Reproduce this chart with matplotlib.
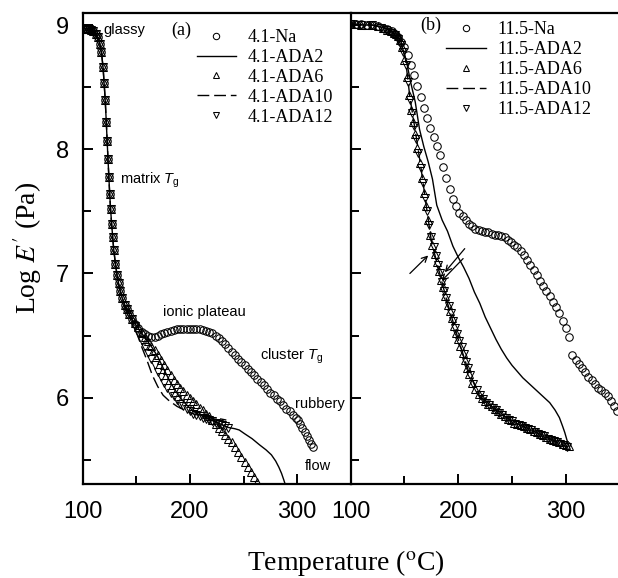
import matplotlib
matplotlib.use("Agg")
import matplotlib.pyplot as plt
from matplotlib.ticker import MultipleLocator

plt.rcParams['font.family'] = ['Liberation Sans', 'DejaVu Sans']
plt.rcParams['mathtext.fontset'] = 'custom'
plt.rcParams['mathtext.rm'] = 'Liberation Sans'
plt.rcParams['mathtext.it'] = 'Liberation Sans:italic'

# ---- panel (a): 4.1 series ----
# steep matrix Tg drop, where all 4.1 curves lie on top of each other
drop41_T = [100, 102, 104, 106, 108, 110, 112, 114, 116, 117.5, 119, 120, 121, 122, 122.8,
            123.6, 124.4, 125.2, 126, 127, 128, 129, 130.5, 132, 133.5, 135, 137, 139, 141, 143.5, 146]
drop41_Y = [8.97, 8.97, 8.97, 8.97, 8.96, 8.95, 8.93, 8.90, 8.85, 8.78, 8.66, 8.53, 8.40, 8.22, 8.07,
            7.92, 7.78, 7.64, 7.52, 7.40, 7.29, 7.19, 7.08, 6.99, 6.92, 6.86, 6.80, 6.75, 6.71, 6.67, 6.63]

na41_T = [149, 152, 155, 158, 161, 164, 167, 170, 173, 176, 179, 182, 185, 188, 191, 194, 197, 200,
          203, 206, 209, 212, 215, 218, 221, 224, 227, 230, 233, 236, 239, 242, 245, 248, 251, 254,
          257, 260, 263, 266, 269, 272, 275, 278, 281, 284, 287, 290, 293, 296, 299, 301, 303, 305,
          307, 309, 311, 313, 315]
na41_Y = [6.59, 6.56, 6.53, 6.51, 6.50, 6.49, 6.49, 6.50, 6.51, 6.52, 6.53, 6.54, 6.545, 6.55, 6.55,
          6.555, 6.555, 6.555, 6.555, 6.55, 6.55, 6.545, 6.54, 6.53, 6.52, 6.50, 6.48, 6.46, 6.43,
          6.40, 6.37, 6.34, 6.31, 6.29, 6.26, 6.23, 6.21, 6.18, 6.15, 6.13, 6.10, 6.07, 6.04, 6.02,
          5.99, 5.97, 5.94, 5.91, 5.89, 5.86, 5.84, 5.82, 5.79, 5.76, 5.72, 5.69, 5.66, 5.63, 5.60]

ada2_41_T = [150, 155, 160, 165, 170, 175, 182, 190, 197, 205, 212, 220, 228, 236, 242, 246, 251,
             258, 265, 271, 276, 280, 283, 285.5, 287.5, 289]
ada2_41_Y = [6.58, 6.52, 6.46, 6.40, 6.33, 6.24, 6.12, 6.01, 5.94, 5.88, 5.85, 5.82, 5.79, 5.76,
             5.75, 5.74, 5.71, 5.67, 5.62, 5.58, 5.54, 5.49, 5.44, 5.39, 5.34, 5.30]

ada6_41_T = [149, 152, 155, 158, 161, 164, 167, 170, 173, 176, 179, 182, 185, 188, 191, 194, 197,
             200, 203, 206, 209, 212, 215, 218, 221, 224, 227, 230, 233, 236, 239, 242, 245, 248,
             251, 254, 257, 260, 263, 266]
ada6_41_Y = [6.60, 6.57, 6.53, 6.49, 6.46, 6.42, 6.38, 6.34, 6.30, 6.26, 6.22, 6.18, 6.14, 6.11,
             6.08, 6.05, 6.02, 6.00, 5.97, 5.95, 5.92, 5.90, 5.87, 5.85, 5.82, 5.79, 5.76, 5.73,
             5.70, 5.67, 5.64, 5.60, 5.56, 5.52, 5.48, 5.44, 5.40, 5.36, 5.32, 5.28]

ada10_41_T = [150, 155, 160, 165, 170, 175, 180, 188, 195, 203, 212, 220, 228, 234]
ada10_41_Y = [6.53, 6.41, 6.30, 6.18, 6.09, 6.02, 5.98, 5.93, 5.90, 5.87, 5.85, 5.84, 5.83, 5.82]

ada12_41_T = [149, 152, 155, 158, 161, 164, 167, 170, 173, 176, 179, 182, 185, 188, 191, 194, 197,
              200, 203, 206, 209, 212, 215, 218, 221, 224, 227, 230, 233, 236]
ada12_41_Y = [6.58, 6.52, 6.46, 6.41, 6.36, 6.31, 6.26, 6.21, 6.17, 6.12, 6.08, 6.04, 6.01, 5.98,
              5.95, 5.93, 5.91, 5.89, 5.87, 5.86, 5.85, 5.84, 5.83, 5.82, 5.81, 5.80, 5.79, 5.78,
              5.77, 5.76]

# ---- panel (b): 11.5 series ----
na115_T = [100, 105, 110, 115, 120, 125, 130, 134, 138, 141, 144, 147, 150, 153, 156, 159, 162,
           165, 168, 171, 174, 177, 180, 183, 186, 189, 192, 195, 198, 201, 204, 207, 210, 213,
           216, 219, 222, 225, 228, 231, 234, 237, 240, 243, 246, 249, 252, 255, 258, 261, 264,
           267, 270, 273, 276, 279, 282, 285, 288, 291, 294, 297, 300, 303, 306, 309, 312, 315,
           318, 321, 324, 327, 330, 333, 336, 339, 342, 345, 348]
na115_Y = [9.01, 9.01, 9.01, 9.00, 9.00, 8.99, 8.98, 8.97, 8.95, 8.93, 8.90, 8.86, 8.82, 8.76,
           8.68, 8.60, 8.51, 8.42, 8.33, 8.25, 8.17, 8.10, 8.03, 7.95, 7.86, 7.77, 7.68, 7.60,
           7.54, 7.49, 7.46, 7.43, 7.40, 7.38, 7.36, 7.35, 7.34, 7.33, 7.33, 7.32, 7.31, 7.31,
           7.30, 7.29, 7.27, 7.25, 7.23, 7.21, 7.18, 7.15, 7.11, 7.07, 7.03, 6.99, 6.94, 6.90,
           6.86, 6.82, 6.77, 6.73, 6.68, 6.62, 6.56, 6.49, 6.34, 6.30, 6.27, 6.24, 6.21, 6.17,
           6.14, 6.11, 6.08, 6.06, 6.04, 6.01, 5.97, 5.93, 5.89]

ada2_115_T = [100, 110, 120, 130, 136, 140, 144, 148, 152, 156, 160, 164, 168, 172, 176, 180,
              185, 190, 195, 200, 205, 210, 215, 220, 225, 230, 235, 240, 245, 250, 255, 260,
              265, 270, 275, 280, 285, 290, 294, 297, 299, 301, 303]
ada2_115_Y = [9.01, 9.00, 9.00, 8.98, 8.96, 8.93, 8.88, 8.82, 8.70, 8.53, 8.38, 8.16, 8.02, 7.90,
              7.76, 7.55, 7.43, 7.34, 7.22, 7.13, 7.05, 6.96, 6.85, 6.76, 6.65, 6.56, 6.47, 6.39,
              6.32, 6.26, 6.21, 6.16, 6.12, 6.08, 6.04, 6.00, 5.96, 5.90, 5.84, 5.77, 5.72, 5.66,
              5.61]

ada6_115_T = [100, 105, 110, 115, 120, 125, 130, 134, 137, 140, 142, 144, 146, 148, 150, 152, 154,
              156, 158, 160, 162, 164, 166, 168, 170, 172, 174, 176, 178, 180, 182, 184, 186, 188,
              190, 192, 194, 196, 198, 200, 202, 204, 206, 208, 210, 213, 216, 219, 222, 225, 228,
              231, 234, 237, 240, 243, 246, 249, 252, 255, 258, 261, 264, 267, 270, 273, 276, 279,
              282, 285, 288, 291, 294, 297, 300, 303]
ada6_115_Y = [9.01, 9.01, 9.00, 9.00, 9.00, 8.99, 8.98, 8.96, 8.95, 8.94, 8.93, 8.91, 8.88, 8.82,
              8.72, 8.58, 8.44, 8.32, 8.22, 8.12, 8.01, 7.89, 7.77, 7.65, 7.54, 7.43, 7.31, 7.23,
              7.16, 7.09, 7.02, 6.95, 6.89, 6.82, 6.75, 6.70, 6.64, 6.58, 6.52, 6.47, 6.42, 6.36,
              6.30, 6.24, 6.19, 6.12, 6.07, 6.03, 6.00, 5.97, 5.95, 5.93, 5.91, 5.89, 5.87, 5.85,
              5.83, 5.82, 5.80, 5.79, 5.78, 5.77, 5.76, 5.75, 5.73, 5.72, 5.71, 5.70, 5.68, 5.67,
              5.66, 5.65, 5.64, 5.63, 5.62, 5.61]

ada10_115_T = [100, 120, 135, 142, 147, 151, 155, 160, 165, 170, 175, 180, 190, 200, 210, 220,
               235, 250, 270, 290, 302]
ada10_115_Y = [9.01, 9.00, 8.97, 8.93, 8.86, 8.72, 8.42, 8.15, 7.87, 7.56, 7.26, 7.09, 6.76, 6.47,
               6.20, 6.01, 5.90, 5.81, 5.73, 5.65, 5.60]

ada12_115_T = [100, 110, 120, 128, 133, 137, 141, 144, 147, 149, 151, 153, 155, 157, 159, 161,
               163, 165, 167, 169, 171, 173, 175, 177, 179, 181, 183, 185, 187, 189, 191, 193,
               195, 197, 199, 201, 203, 205, 207, 209, 211, 214, 217, 220, 223, 226, 229, 232,
               235, 238, 241, 244, 247, 250, 253, 256, 259, 262, 265, 268, 271, 274, 277, 280,
               283, 286, 289, 292, 295, 298, 301]
ada12_115_Y = [9.01, 9.00, 9.00, 8.98, 8.96, 8.94, 8.92, 8.89, 8.84, 8.78, 8.68, 8.54, 8.40, 8.29,
               8.19, 8.08, 7.97, 7.85, 7.73, 7.61, 7.50, 7.39, 7.29, 7.21, 7.14, 7.07, 7.00, 6.93,
               6.86, 6.80, 6.74, 6.68, 6.62, 6.56, 6.51, 6.46, 6.41, 6.35, 6.29, 6.24, 6.18, 6.11,
               6.06, 6.02, 5.99, 5.96, 5.94, 5.92, 5.90, 5.88, 5.86, 5.84, 5.82, 5.81, 5.79, 5.78,
               5.77, 5.76, 5.75, 5.74, 5.72, 5.71, 5.70, 5.69, 5.67, 5.66, 5.65, 5.64, 5.63, 5.62,
               5.60]

# arrows in panel (b): (tail, head) in data units
arrows_b = [((155, 7.00), (172, 7.145)),
            ((206, 7.20), (187.5, 7.01)),
            ((204.5, 7.12), (184.5, 6.94))]

# annotations in panel (a)
notes_a = [(119, 8.96, 'glassy'),
           (135, 7.75, r'matrix $T_{\rm g}$'),
           (175, 6.69, 'ionic plateau'),
           (265, 6.33, r'cluster $T_{\rm g}$'),
           (298, 5.95, 'rubbery'),
           (307.5, 5.45, 'flow')]

fig = plt.figure(figsize=(6.18, 5.78), dpi=100)
ax1 = fig.add_axes([0.1338, 0.1626, 0.4337, 0.8149])
ax2 = fig.add_axes([0.5675, 0.1626, 0.4325, 0.8149], sharey=ax1)

mk = dict(linestyle='none', ms=5.4, mew=0.75, mfc='none', mec='black')


def draw(ax, na, a2, a6, a10, a12, prefix):
    ax.plot(*na, marker='o', label=prefix + '-Na', **mk)
    ax.plot(*a2, color='black', lw=1.0, label=prefix + '-ADA2')
    ax.plot(*a6, marker='^', label=prefix + '-ADA6', **mk)
    ax.plot(*a10, color='black', lw=1.0, dashes=(8.5, 3.5), label=prefix + '-ADA10')
    ax.plot(*a12, marker='v', label=prefix + '-ADA12', **mk)


draw(ax1,
     (drop41_T + na41_T, drop41_Y + na41_Y),
     (drop41_T + ada2_41_T, drop41_Y + ada2_41_Y),
     (drop41_T + ada6_41_T, drop41_Y + ada6_41_Y),
     (drop41_T + ada10_41_T, drop41_Y + ada10_41_Y),
     (drop41_T + ada12_41_T, drop41_Y + ada12_41_Y),
     '4.1')
draw(ax2,
     (na115_T, na115_Y),
     (ada2_115_T, ada2_115_Y),
     (ada6_115_T, ada6_115_Y),
     (ada10_115_T, ada10_115_Y),
     (ada12_115_T, ada12_115_Y),
     '11.5')

for tail, head in arrows_b:
    ax2.annotate('', xy=head, xytext=tail,
                 arrowprops=dict(arrowstyle='->', lw=0.9, color='black', shrinkA=0, shrinkB=0))

for x, y, s in notes_a:
    ax1.text(x, y, s, fontsize=10.5, va='center', ha='left')

serif = ['Liberation Serif', 'DejaVu Serif']
ax1.text(183, 8.96, '(a)', family=serif, fontsize=13, va='center')
ax2.text(164.5, 9.0, '(b)', family=serif, fontsize=13, va='center')

leg_kw = dict(loc='upper left', frameon=False, borderpad=0, borderaxespad=0,
              handlelength=2.2, handletextpad=0.65, labelspacing=0.16, numpoints=1,
              markerscale=0.85, prop={'family': serif, 'size': 13})
ax1.legend(bbox_to_anchor=(0.425, 0.966), **leg_kw)
ax2.legend(bbox_to_anchor=(0.358, 0.982), **leg_kw)

ax1.set_xlim(100, 350)
ax2.set_xlim(100, 348.5)
ax1.set_ylim(5.305, 9.097)

for ax in (ax1, ax2):
    ax.xaxis.set_major_locator(MultipleLocator(100))
    ax.xaxis.set_minor_locator(MultipleLocator(50))
    ax.yaxis.set_major_locator(MultipleLocator(1))
    ax.yaxis.set_minor_locator(MultipleLocator(0.5))
    ax.tick_params(which='both', direction='in', width=1.4, top=False, right=False)
    ax.tick_params(which='major', length=7.5)
    ax.tick_params(which='minor', length=5.5)
    ax.tick_params(axis='x', labelsize=17, pad=12)
    ax.tick_params(axis='y', labelsize=17, pad=10)
    for sp in ax.spines.values():
        sp.set_linewidth(1.6)

ax2.spines['right'].set_visible(False)
ax1.spines['right'].set_visible(False)
ax2.tick_params(axis='y', labelleft=False)

fig.text(0.045, 0.571, r"Log $E'$ (Pa)", family=serif, math_fontfamily='stix',
         fontsize=20, rotation=90, ha='center', va='center')
fig.text(0.56, 0.014, r'Temperature ($^{\rm o}$C)', family=serif, math_fontfamily='stix',
         fontsize=20, ha='center', va='baseline')

fig.savefig('out.png', dpi=100)
